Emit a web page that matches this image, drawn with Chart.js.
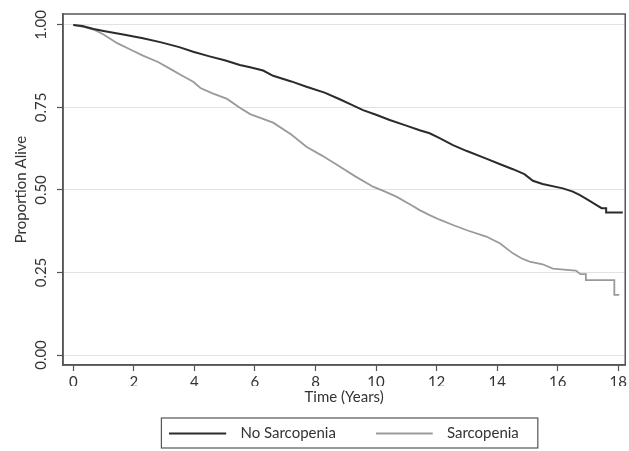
<!DOCTYPE html>
<html>
<head>
<meta charset="utf-8">
<script src="https://cdn.jsdelivr.net/npm/chart.js@4"></script>
<style>
  body { margin: 0; background: #fff; }
</style>
</head>
<body>
<canvas id="kmChart" width="629" height="451"></canvas>
<script>
// Kaplan-Meier survival, sarcopenia vs none

const seriesLabels = ["No Sarcopenia", "Sarcopenia"];

const timeNoSarc = [
  0, 0.3, 0.67, 1.0, 1.65, 2.3, 2.87, 3.5, 3.96, 4.5, 5.0, 5.5, 5.84, 6.27, 6.6,
  7.2, 7.7, 8.3, 8.8, 9.2, 9.57, 10.0, 10.45, 11.0, 11.44, 11.77, 12.1, 12.54,
  13.0, 13.64, 14.1, 14.52, 14.9, 15.18, 15.5, 16.17, 16.5, 16.72, 17.0, 17.27,
  17.45, 17.6, 17.6, 18.15
];
const survNoSarc = [
  1.0, 0.997, 0.988, 0.982, 0.971, 0.96, 0.948, 0.933, 0.919, 0.905, 0.893, 0.879,
  0.872, 0.862, 0.846, 0.829, 0.813, 0.795, 0.775, 0.758, 0.742, 0.728, 0.712,
  0.695, 0.681, 0.672, 0.657, 0.636, 0.618, 0.595, 0.578, 0.563, 0.548, 0.528,
  0.518, 0.505, 0.495, 0.485, 0.47, 0.455, 0.445, 0.445, 0.432, 0.432
];

const timeSarc = [
  0, 0.4, 0.7, 1.0, 1.45, 1.9, 2.3, 2.8, 3.2, 3.6, 3.96, 4.2, 4.6, 5.08, 5.5,
  5.84, 6.2, 6.6, 7.2, 7.7, 8.2, 8.8, 9.3, 9.9, 10.3, 10.67, 11.2, 11.44, 11.77,
  12.1, 12.54, 13.0, 13.64, 14.1, 14.52, 14.8, 15.07, 15.5, 15.84, 16.3, 16.6,
  16.75, 16.93, 16.93, 17.87, 17.87, 18.03
];
const survSarc = [
  1.0, 0.993, 0.985, 0.971, 0.945, 0.925, 0.907, 0.888, 0.867, 0.846, 0.828,
  0.809, 0.793, 0.776, 0.749, 0.730, 0.718, 0.704, 0.668, 0.631, 0.605, 0.571,
  0.542, 0.510, 0.495, 0.480, 0.452, 0.439, 0.424, 0.41, 0.394, 0.378, 0.359,
  0.338, 0.308, 0.293, 0.283, 0.275, 0.262, 0.258, 0.256, 0.245, 0.245, 0.227,
  0.227, 0.182, 0.182
];

const xTicks = [0, 2, 4, 6, 8, 10, 12, 14, 16, 18];
const yTicks = [0, 0.25, 0.5, 0.75, 1];

const axisColor = "#555";
const textColor = "#333";
const fontFamily = "Lato, 'Liberation Sans', sans-serif";
const fontSize = 15;

// legend line sample drawn as a small canvas
function legendSwatch(color, width) {
  const c = document.createElement("canvas");
  c.width = 64;
  c.height = 4;
  const g = c.getContext("2d");
  g.strokeStyle = color;
  g.lineWidth = width;
  g.beginPath();
  g.moveTo(0, 2);
  g.lineTo(57, 2);
  g.stroke();
  return c;
}

const frame = {
  id: "frame",
  afterDraw(chart) {
    const { ctx, chartArea } = chart;
    ctx.save();
    ctx.strokeStyle = axisColor;
    ctx.lineWidth = 1.5;
    ctx.strokeRect(chartArea.left, chartArea.top, chartArea.right - chartArea.left, chartArea.bottom - chartArea.top);

    // box round the legend
    const boxes = chart.legend.legendHitBoxes;
    if (boxes && boxes.length) {
      const first = boxes[0];
      const last = boxes[boxes.length - 1];
      const l = first.left - 8;
      const r = last.left + last.width + 19;
      const t = first.top - 8;
      const b = first.top + first.height + 7;
      ctx.lineWidth = 1.2;
      ctx.strokeRect(l, t, r - l, b - t);
    }
    ctx.restore();
  }
};

new Chart(document.getElementById("kmChart"), {
  type: "line",
  data: {
    datasets: [
      {
        label: seriesLabels[0],
        data: timeNoSarc.map((t, i) => ({ x: t, y: survNoSarc[i] })),
        borderColor: "#2b2b2b",
        borderWidth: 2,
        pointRadius: 0,
        pointStyle: legendSwatch("#2b2b2b", 2),
        tension: 0
      },
      {
        label: seriesLabels[1],
        data: timeSarc.map((t, i) => ({ x: t, y: survSarc[i] })),
        borderColor: "#9a9a9a",
        borderWidth: 1.8,
        pointRadius: 0,
        pointStyle: legendSwatch("#9a9a9a", 1.8),
        tension: 0
      }
    ]
  },
  options: {
    responsive: false,
    animation: false,
    layout: { padding: { top: 14, right: 3, bottom: 0, left: 0 } },
    plugins: {
      tooltip: { enabled: false },
      legend: {
        position: "bottom",
        fullSize: false,
        labels: {
          usePointStyle: true,
          pointStyleWidth: 63.5,
          padding: 40,
          color: textColor,
          font: { family: fontFamily, size: fontSize }
        }
      }
    },
    scales: {
      x: {
        type: "linear",
        min: -0.34,
        max: 18.23,
        afterBuildTicks: s => { s.ticks = xTicks.map(v => ({ value: v })); },
        afterFit: s => { s.height = 21; },
        grid: { drawOnChartArea: false, tickLength: 6, tickColor: axisColor, tickWidth: 1.2 },
        border: { color: axisColor, width: 1.5 },
        ticks: {
          color: textColor,
          padding: 2,
          maxRotation: 0,
          font: { family: fontFamily, size: fontSize }
        },
        title: {
          display: true,
          text: "Time (Years)",
          color: textColor,
          padding: { top: 0, bottom: -20 },
          font: { family: fontFamily, size: fontSize }
        }
      },
      y: {
        min: -0.0303,
        max: 1.0333,
        afterBuildTicks: s => { s.ticks = yTicks.map(v => ({ value: v })); },
        afterFit: s => { s.width = 63; },
        grid: { color: "#e2e2e2", lineWidth: 1, tickLength: 6, tickColor: axisColor, tickWidth: 1.2 },
        border: { color: axisColor, width: 1.5 },
        ticks: {
          color: textColor,
          padding: 1,
          minRotation: 90,
          maxRotation: 90,
          crossAlign: "center",
          callback: v => v.toFixed(2),
          font: { family: fontFamily, size: fontSize }
        },
        title: {
          display: true,
          text: "Proportion Alive",
          color: textColor,
          padding: { top: 12, bottom: 0 },
          font: { family: fontFamily, size: fontSize }
        }
      }
    }
  },
  plugins: [frame]
});
</script>
</body>
</html>
